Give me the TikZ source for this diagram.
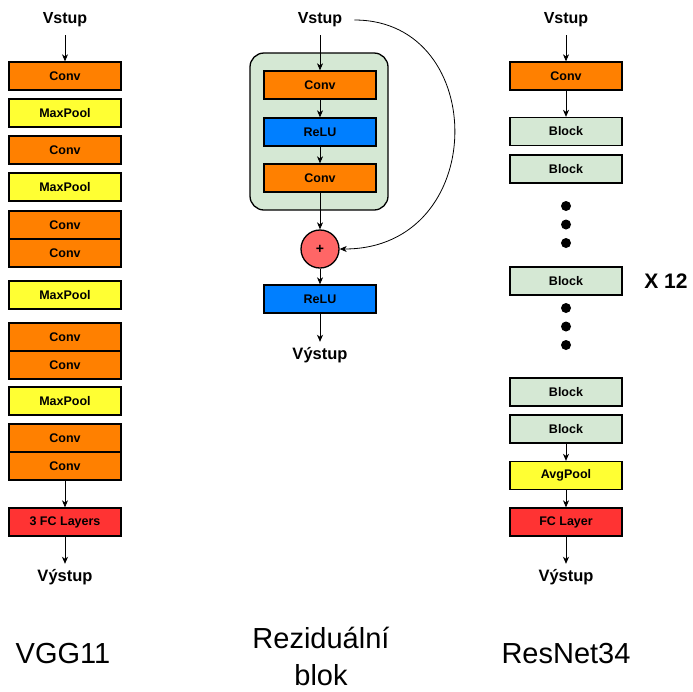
\documentclass[tikz,border=0pt]{standalone}
\usepackage{fontspec}
\setmainfont{Liberation Sans}
\usetikzlibrary{arrows.meta}

\definecolor{convorange}{HTML}{FF8000}
\definecolor{poolyellow}{HTML}{FFFF33}
\definecolor{blockgreen}{HTML}{D5E8D4}
\definecolor{relublue}{HTML}{007FFF}
\definecolor{fcred}{HTML}{FF3333}
\definecolor{sumred}{HTML}{FF6666}

\tikzset{
  layer/.style={draw=black, line width=1.3pt, minimum width=112pt, minimum height=28pt,
    inner sep=0pt, font=\bfseries\fontsize{12.5}{14}\selectfont},
  convbox/.style={layer, fill=convorange},
  poolbox/.style={layer, fill=poolyellow},
  blockbox/.style={layer, fill=blockgreen},
  relubox/.style={layer, fill=relublue},
  fcbox/.style={layer, fill=fcred},
  inlabel/.style={font=\bfseries\fontsize{16}{18}\selectfont, minimum height=30pt, inner sep=0pt},
  outlabel/.style={font=\bfseries\fontsize{16.5}{18}\selectfont, minimum height=26pt, inner sep=0pt},
  title/.style={font=\fontsize{29}{40}\selectfont, inner sep=0pt, anchor=base},
  arr/.style={line width=0.9pt, -{Stealth[length=7pt, width=6pt, inset=2pt]}},
  dotmark/.style={circle, fill=black, minimum size=10pt, inner sep=0pt},
}

\begin{document}
\begin{tikzpicture}[x=1pt, y=-1pt]
\useasboundingbox (0,0) rectangle (693,691);

% ---------------- VGG11 ----------------
\node[inlabel] (vin) at (65,20) {Vstup};
\node[convbox] (v1) at (65,76) {Conv};
\node[poolbox] (v2) at (65,113) {MaxPool};
\node[convbox] (v3) at (65,150) {Conv};
\node[poolbox] (v4) at (65,187) {MaxPool};
\node[convbox] (v5) at (65,225) {Conv};
\node[convbox] (v6) at (65,253) {Conv};
\node[poolbox] (v7) at (65,295) {MaxPool};
\node[convbox] (v8) at (65,337) {Conv};
\node[convbox] (v9) at (65,365) {Conv};
\node[poolbox] (v10) at (65,401) {MaxPool};
\node[convbox] (v11) at (65,438) {Conv};
\node[convbox] (v12) at (65,466) {Conv};
\node[fcbox] (v13) at (65,522) {3 FC Layers};
\node[outlabel] (vout) at (65,577) {Výstup};
\draw[arr] (vin) -- (v1);
\draw[arr] (v12) -- (v13);
\draw[arr] (v13) -- (vout);
\node[title] (vname) at (63,663) {VGG11};

% ---------------- Residual block ----------------
\node[draw=black, line width=1.3pt, fill=blockgreen, rounded corners=14pt,
      minimum width=138pt, minimum height=157pt] (rbox) at (319,131.5) {};
\node[inlabel, inner xsep=12pt] (rin) at (320,20) {Vstup};
\node[convbox] (r1) at (320,85) {Conv};
\node[relubox] (r2) at (320,132) {ReLU};
\node[convbox] (r3) at (320,178) {Conv};
\node[circle, draw=black, line width=1.3pt, fill=sumred, minimum size=38pt, inner sep=0pt,
      font=\bfseries\fontsize{14}{15}\selectfont] (rsum) at (320,249) {+};
\node[relubox] (r4) at (320,299) {ReLU};
\node[outlabel] (rout) at (320,355) {Výstup};
\draw[arr] (rin) -- (r1);
\draw[arr] (r1) -- (r2);
\draw[arr] (r2) -- (r3);
\draw[arr] (r3) -- (rsum);
\draw[arr] (rsum) -- (r4);
\draw[arr] (r4) -- (rout);
\draw[line width=0.8pt, -{Stealth[length=7pt, width=6pt, inset=2pt]}]
  (rin.east) .. controls (490,20) and (490,249) .. (rsum.east);
\node[title] (rname1) at (321,648) {Reziduální};
\node[title] (rname2) at (321,685) {blok};

% ---------------- ResNet34 ----------------
\node[inlabel] (nin) at (566,20) {Vstup};
\node[convbox] (n1) at (566,76) {Conv};
\node[blockbox] (n2) at (566,131.5) {Block};
\node[blockbox] (n3) at (566,169) {Block};
\node[dotmark] (d1) at (566,206) {};
\node[dotmark] (d2) at (566,224.5) {};
\node[dotmark] (d3) at (566,243) {};
\node[blockbox] (n4) at (566,281) {Block};
\node[font=\bfseries\fontsize{21}{24}\selectfont, inner sep=0pt] (rep) at (666,281) {X 12};
\node[dotmark] (d4) at (566,308) {};
\node[dotmark] (d5) at (566,326.5) {};
\node[dotmark] (d6) at (566,345) {};
\node[blockbox] (n5) at (566,392) {Block};
\node[blockbox] (n6) at (566,429) {Block};
\node[poolbox] (n7) at (566,475.5) {AvgPool};
\node[fcbox] (n8) at (566,522) {FC Layer};
\node[outlabel] (nout) at (566,577) {Výstup};
\draw[arr] (nin) -- (n1);
\draw[arr] (n1) -- (n2);
\draw[arr] (n6) -- (n7);
\draw[arr] (n7) -- (n8);
\draw[arr] (n8) -- (nout);
\node[title] (nname) at (566,663) {ResNet34};
\end{tikzpicture}
\end{document}
